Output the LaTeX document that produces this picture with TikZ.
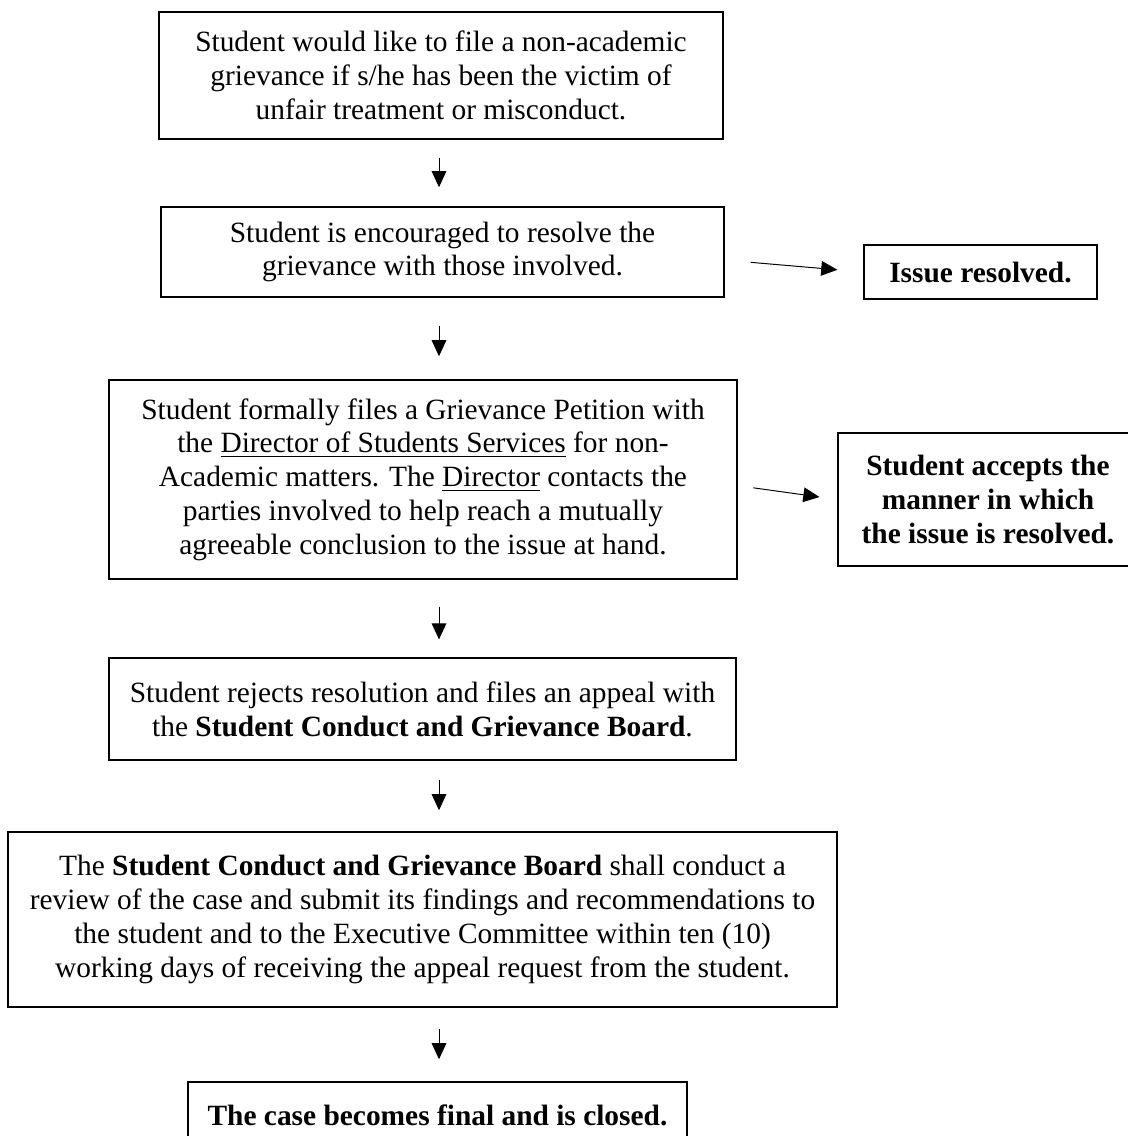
\documentclass[tikz,border=0pt]{standalone}
\usepackage{fontspec}
\setmainfont{Liberation Serif}
\usetikzlibrary{arrows.meta}

\begin{document}
\begin{tikzpicture}[x=0.4082pt,y=-0.4082pt]
        \tikzstyle{main node}=[draw,line width=0.6pt,align=center,inner sep=0pt,font=\fontsize{12}{13.8}\selectfont]
        \tikzstyle{bold node}=[main node,font=\fontsize{12}{13.8}\selectfont\bfseries]
        \tikzstyle{flow}=[line width=0.4pt,-{Triangle[length=6.6pt,width=6pt]}]
        \useasboundingbox (0,0) rectangle (1127,1136);
        % main column
        \node[main node,minimum width=230.2pt,minimum height=51.8pt] (Victim) at (441,75.5) {Student would like to file a non-academic\\grievance if s/he has been the victim of\\unfair treatment or misconduct.};
        \node[main node,minimum width=229.8pt,minimum height=36.7pt] (Resolve) at (442.5,252) {Student is encouraged to resolve the\\grievance with those involved.};
        \node[main node,minimum width=256.3pt,minimum height=81.2pt] (Petition) at (423,479.5) {Student formally files a Grievance Petition with\\the \underline{Director of Students Services} for non-\\Academic matters. The \underline{Director} contacts the\\parties involved to help reach a mutually\\agreeable conclusion to the issue at hand.};
        \node[main node,minimum width=255.9pt,minimum height=41.6pt] (Appeal) at (422.5,709) {Student rejects resolution and files an appeal with\\the \textbf{Student Conduct and Grievance Board}.};
        \node[main node,minimum width=338.4pt,minimum height=71.4pt] (Review) at (422.5,919.5) {The \textbf{Student Conduct and Grievance Board} shall conduct a\\review of the case and submit its findings and recommendations to\\the student and to the Executive Committee within ten (10)\\working days of receiving the appeal request from the student.};
        \node[bold node,minimum width=203.7pt,minimum height=26.9pt] (Closed) at (437.5,1115) {The case becomes final and is closed.};
        % side outcomes
        \node[bold node,minimum width=95.1pt,minimum height=22pt] (Resolved) at (980.5,272) {Issue resolved.};
        \node[bold node,minimum width=122.5pt,minimum height=54.3pt] (Accepts) at (988,499.5) {Student accepts the\\manner in which\\the issue is resolved.};
        % arrows
        \coordinate (Axis) at (439,0);
        \foreach \from/\to/\s/\e in {Victim/Resolve/7.3pt/7.8pt,Resolve/Petition/11.4pt/9.4pt,Petition/Appeal/11pt/7.3pt,Appeal/Review/7.8pt/8.6pt,Review/Closed/8.6pt/9pt}
            \draw[flow,shorten <=\s,shorten >=\e] (\from.south -| Axis) -- (\to.north -| Axis);
        \draw[flow,shorten <=10.6pt,shorten >=10.6pt] ([yshift=-3.3pt]Resolve.east) -- (Resolved.west);
        \draw[flow,shorten <=6.5pt,shorten >=7.3pt] ([yshift=-2.5pt]Petition.east) -- (Accepts.west);
\end{tikzpicture}
\end{document}
